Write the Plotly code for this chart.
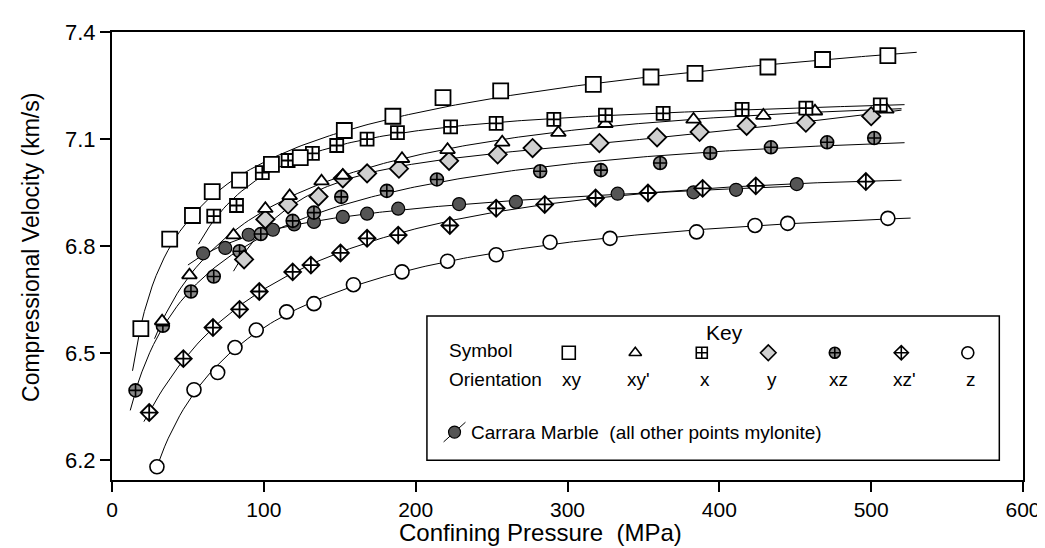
import numpy as np
import plotly.graph_objects as go

# ---------------- data ----------------
xy_p = [19, 38, 53, 66, 84, 105, 124, 153, 185, 218, 256, 317, 355, 384, 432, 468, 511]
xy_v = [6.569, 6.820, 6.886, 6.953, 6.985, 7.029, 7.048, 7.124, 7.164, 7.216, 7.235, 7.253, 7.274, 7.284, 7.302, 7.323, 7.334]

xyp_p = [33, 51, 80, 101, 117, 138, 152, 191, 221, 257, 294, 325, 383, 429, 463, 510]
xyp_v = [6.590, 6.719, 6.831, 6.905, 6.941, 6.982, 6.998, 7.045, 7.070, 7.091, 7.118, 7.143, 7.155, 7.166, 7.178, 7.183]

x_p = [67, 82, 99, 116, 132, 148, 168, 188, 223, 253, 291, 325, 363, 415, 457, 506]
x_v = [6.884, 6.914, 7.006, 7.040, 7.060, 7.082, 7.100, 7.118, 7.134, 7.144, 7.155, 7.167, 7.172, 7.183, 7.187, 7.196]

y_p = [87, 101, 116, 136, 152, 168, 189, 222, 254, 277, 321, 359, 387, 418, 457, 500]
y_v = [6.763, 6.875, 6.917, 6.939, 6.990, 7.004, 7.017, 7.039, 7.057, 7.075, 7.089, 7.105, 7.120, 7.137, 7.146, 7.164]

xz_p = [15.5, 33.5, 52, 67, 84, 98, 119, 133, 151, 181, 214, 282, 322, 361, 394, 434, 471, 502]
xz_v = [6.396, 6.577, 6.673, 6.715, 6.786, 6.834, 6.871, 6.894, 6.938, 6.955, 6.987, 7.010, 7.013, 7.033, 7.061, 7.077, 7.091, 7.103]

xzp_p = [24.5, 47, 66.5, 84, 97, 119, 131, 150.5, 168, 188.5, 222.5, 253, 285, 318.5, 353, 389, 424, 496.5]
xzp_v = [6.334, 6.485, 6.572, 6.623, 6.673, 6.728, 6.747, 6.781, 6.822, 6.831, 6.858, 6.906, 6.917, 6.935, 6.949, 6.962, 6.969, 6.981]

z_p = [29.6, 54, 69.6, 81, 95, 115, 133, 159, 191, 221, 253, 288.5, 328, 385, 423.5, 445, 511]
z_v = [6.182, 6.398, 6.446, 6.516, 6.565, 6.616, 6.639, 6.692, 6.728, 6.758, 6.776, 6.811, 6.822, 6.840, 6.858, 6.864, 6.878]

cm_p = [60, 74.6, 90, 106, 120, 133, 152, 168, 188.5, 228.6, 266, 333, 383, 411, 451]
cm_v = [6.780, 6.795, 6.832, 6.846, 6.861, 6.868, 6.882, 6.891, 6.905, 6.918, 6.924, 6.947, 6.951, 6.958, 6.974]

# pressure span of each fitted curve (MPa)
fit_lo = {"xy": 13.5, "xy'": 28, "x": 57, "y": 80, "xz": 12, "xz'": 21, "z": 29.6, "cm": 50}
fit_hi = {"xy": 530, "xy'": 520, "x": 522, "y": 520, "xz": 522, "xz'": 520, "z": 526, "cm": 455}

orientation_labels = ["xy", "xy'", "x", "y", "xz", "xz'", "z"]
y_ticks = [6.2, 6.5, 6.8, 7.1, 7.4]
x_ticks = [0, 100, 200, 300, 400, 500, 600]

# ---------------- styles ----------------
FONT = "Liberation Sans, Arial, Helvetica, sans-serif"
styles = {
    "xy":  dict(symbol="square", size=15, color="white", lw=1.8),
    "xy'": dict(symbol="triangle-up", size=13, color="white", lw=1.8),
    "x":   dict(symbol="square-cross", size=13, color="white", lw=1.8),
    "y":   dict(symbol="diamond", size=14, color="#cfcfcf", lw=1.8),
    "xz":  dict(symbol="circle-cross", size=13, color="#8a8a8a", lw=1.6),
    "xz'": dict(symbol="diamond-cross", size=13, color="white", lw=1.8),
    "z":   dict(symbol="circle", size=14, color="white", lw=1.6),
    "cm":  dict(symbol="circle", size=13, color="#555555", lw=1.2),
}
series = [
    ("cm", cm_p, cm_v),
    ("z", z_p, z_v),
    ("xz'", xzp_p, xzp_v),
    ("xz", xz_p, xz_v),
    ("y", y_p, y_v),
    ("xy'", xyp_p, xyp_v),
    ("x", x_p, x_v),
    ("xy", xy_p, xy_v),
]

fig = go.Figure()

# fitted curves (cubic in ln P)
for key, p, v in series:
    lp = np.log(np.array(p, dtype=float))
    coef = np.polyfit(lp, np.array(v), 3)
    pp = np.linspace(fit_lo[key], fit_hi[key], 200)
    vv = np.polyval(coef, np.log(pp))
    fig.add_trace(go.Scatter(x=pp, y=vv, mode="lines",
                             line=dict(color="black", width=1),
                             hoverinfo="skip", showlegend=False))

# markers
for key, p, v in series:
    st = styles[key]
    fig.add_trace(go.Scatter(x=p, y=v, mode="markers", name=key, showlegend=False,
                             marker=dict(symbol=st["symbol"], size=st["size"], color=st["color"],
                                         line=dict(color="black", width=st["lw"]))))

# ---------------- key box (drawn on an overlay axis in paper units) ----------------
bx0, bx1, by0, by1 = 0.3457, 0.974, 0.044, 0.366
sym_row, ori_row, cm_row, key_row = 0.284, 0.224, 0.107, 0.330
col0, dcol = 0.5014, 0.0730
cols = [col0 + i * dcol for i in range(len(orientation_labels))]
leg_keys = ["xy", "xy'", "x", "y", "xz", "xz'", "z"]

for i, k in enumerate(leg_keys):
    st = styles[k]
    fig.add_trace(go.Scatter(x=[cols[i]], y=[sym_row], mode="markers", xaxis="x2", yaxis="y2",
                             showlegend=False, hoverinfo="skip",
                             marker=dict(symbol=st["symbol"], size=st["size"] - 2, color=st["color"],
                                         line=dict(color="black", width=1.6))))
cm_sx = 0.376
fig.add_trace(go.Scatter(x=[cm_sx - 0.012, cm_sx + 0.012], y=[cm_row - 0.022, cm_row + 0.022],
                         mode="lines", xaxis="x2", yaxis="y2", showlegend=False, hoverinfo="skip",
                         line=dict(color="black", width=1)))
fig.add_trace(go.Scatter(x=[cm_sx], y=[cm_row], mode="markers", xaxis="x2", yaxis="y2",
                         showlegend=False, hoverinfo="skip",
                         marker=dict(symbol="circle", size=12, color="#555555",
                                     line=dict(color="black", width=1.2))))


def label(x, y, text, size=19, xanchor="center", **kw):
    return dict(x=x, y=y, text=text, showarrow=False, xref="paper", yref="paper",
                xanchor=xanchor, yanchor="middle",
                font=dict(size=size, family=FONT, color="black"), **kw)


ann = [
    label((bx0 + bx1) / 2 + 0.012, key_row, "Key", size=21),
    label(0.368, sym_row + 0.004, "Symbol", xanchor="left"),
    label(0.368, ori_row, "Orientation", xanchor="left"),
    label(0.392, cm_row, "Carrara Marble\u00a0 (all other points mylonite)", xanchor="left"),
]
for i, lab in enumerate(orientation_labels):
    ann.append(label(cols[i] + 0.004, ori_row, lab))
# axis titles
ann.append(label(0.47, -0.118, "Confining Pressure\u00a0 (MPa)", size=24))
ann.append(label(-0.089, 0.52, "Compressional Velocity (km/s)", size=23, textangle=-90))

fig.update_layout(
    width=1045, height=548,
    margin=dict(l=104, r=21, t=16, b=76),
    paper_bgcolor="white", plot_bgcolor="white",
    font=dict(family=FONT, color="black"),
    annotations=ann,
    shapes=[dict(type="rect", xref="paper", yref="paper", x0=bx0, x1=bx1, y0=by0, y1=by1,
                 line=dict(color="black", width=1.5), fillcolor="white", layer="below")],
    xaxis=dict(range=[0, 600], tickvals=x_ticks, ticks="outside", ticklen=10, tickwidth=1.5,
               tickcolor="black", showline=True, linecolor="black", linewidth=2, mirror=True,
               showgrid=False, zeroline=False, tickfont=dict(size=21, family=FONT)),
    yaxis=dict(range=[6.145, 7.4], tickvals=y_ticks, ticktext=[f"{t:.1f}" for t in y_ticks],
               ticks="outside", ticklen=10, tickwidth=1.5, tickcolor="black",
               showline=True, linecolor="black", linewidth=2, mirror=True,
               showgrid=False, zeroline=False, tickfont=dict(size=22, family=FONT)),
    xaxis2=dict(range=[0, 1], domain=[0, 1], overlaying="x", anchor="y2", visible=False),
    yaxis2=dict(range=[0, 1], domain=[0, 1], overlaying="y", anchor="x2", visible=False),
)

fig.write_html("out.html")
